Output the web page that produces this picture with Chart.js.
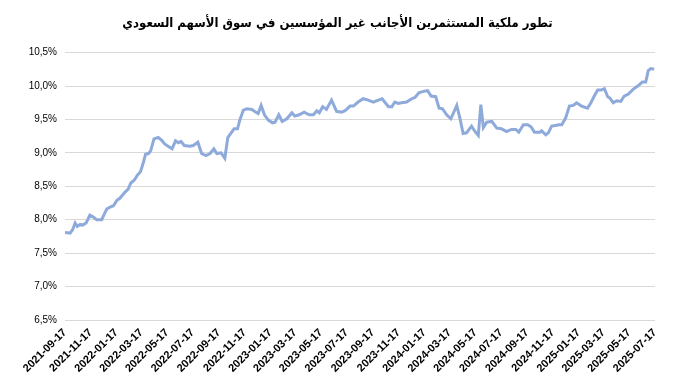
<!DOCTYPE html>
<html>
<head>
<meta charset="utf-8">
<script src="https://cdn.jsdelivr.net/npm/chart.js@4.4.1/dist/chart.umd.min.js"></script>
<style>
  html, body { margin: 0; padding: 0; background: #fff; }
</style>
</head>
<body>
<canvas id="myChart" width="675" height="391"></canvas>
<script>
const chartTitle = 'تطور ملكية المستثمرين الأجانب غير المؤسسين في سوق الأسهم السعودي';
const startDate = '2021-09-17';

// days after startDate for each reading
const dayOffsets = [0, 12, 18, 24, 29, 36, 42, 50, 59, 67, 75, 87, 92, 99, 107, 115, 123, 130, 142, 150,
  156, 164, 171, 179, 186, 191, 198, 203, 211, 221, 229, 237, 249, 254, 262, 269, 275, 283, 296, 304,
  315, 324, 334, 344, 353, 360, 370, 379, 386, 394, 401, 409, 415, 423, 431, 443, 450, 458, 465, 473,
  482, 492, 498, 507, 515, 526, 538, 545, 555, 567, 579, 589, 597, 603, 611, 620, 632, 644, 656, 664,
  676, 684, 695, 707, 719, 731, 743, 752, 767, 775, 782, 790, 798, 810, 822, 830, 839, 850, 860, 868,
  879, 887, 895, 905, 915, 929, 937, 944, 952, 964, 972, 980, 986, 992, 1000, 1012, 1024, 1035, 1047, 1059,
  1069, 1076, 1087, 1097, 1105, 1113, 1126, 1130, 1140, 1146, 1154, 1163, 1171, 1178, 1187, 1196, 1205, 1213, 1225, 1239,
  1247, 1255, 1263, 1271, 1279, 1287, 1292, 1300, 1308, 1318, 1326, 1336, 1347, 1358, 1369, 1377, 1383, 1389, 1397];

// ownership share, %
const ownership = [7.81, 7.80, 7.85, 7.95, 7.90, 7.93, 7.92, 7.95, 8.07, 8.04, 8.00, 8.00, 8.07, 8.16, 8.19, 8.21, 8.29, 8.32, 8.41, 8.46,
  8.55, 8.59, 8.66, 8.72, 8.86, 8.98, 8.99, 9.03, 9.21, 9.23, 9.19, 9.13, 9.08, 9.06, 9.18, 9.15, 9.17, 9.11, 9.10, 9.11,
  9.16, 8.99, 8.96, 8.99, 9.06, 8.99, 9.00, 8.92, 9.23, 9.30, 9.36, 9.36, 9.50, 9.64, 9.66, 9.65, 9.62, 9.59, 9.71, 9.57,
  9.49, 9.45, 9.46, 9.57, 9.47, 9.51, 9.60, 9.55, 9.57, 9.61, 9.57, 9.57, 9.63, 9.60, 9.69, 9.65, 9.79, 9.62, 9.61, 9.63,
  9.70, 9.70, 9.76, 9.81, 9.79, 9.76, 9.79, 9.81, 9.69, 9.69, 9.76, 9.74, 9.75, 9.76, 9.81, 9.83, 9.90, 9.92, 9.93, 9.85,
  9.84, 9.67, 9.66, 9.57, 9.51, 9.71, 9.50, 9.29, 9.30, 9.40, 9.32, 9.26, 9.72, 9.38, 9.46, 9.47, 9.37, 9.36, 9.32, 9.35,
  9.35, 9.31, 9.42, 9.42, 9.39, 9.31, 9.31, 9.33, 9.27, 9.30, 9.40, 9.41, 9.42, 9.42, 9.52, 9.70, 9.71, 9.75, 9.70, 9.67,
  9.75, 9.85, 9.94, 9.94, 9.96, 9.84, 9.82, 9.75, 9.78, 9.77, 9.85, 9.88, 9.95, 10.00, 10.06, 10.06, 10.23, 10.26, 10.25];

const tickLabels = ['2021-09-17', '2021-11-17', '2022-01-17', '2022-03-17', '2022-05-17', '2022-07-17',
  '2022-09-17', '2022-11-17', '2023-01-17', '2023-03-17', '2023-05-17', '2023-07-17',
  '2023-09-17', '2023-11-17', '2024-01-17', '2024-03-17', '2024-05-17', '2024-07-17',
  '2024-09-17', '2024-11-17', '2025-01-17', '2025-03-17', '2025-05-17', '2025-07-17'];

const dayMs = 24 * 3600 * 1000;
const t0 = Date.parse(startDate);
const tickDays = tickLabels.map(s => Math.round((Date.parse(s) - t0) / dayMs));

const points = dayOffsets.map((d, i) => ({x: d, y: ownership[i]}));

const ctx = document.getElementById('myChart');

new Chart(ctx, {
  type: 'line',
  data: {
    datasets: [{
      label: 'ملكية المستثمرين الأجانب',
      data: points,
      borderColor: '#8eaadb',
      borderWidth: 3,
      pointRadius: 0,
      tension: 0,
      fill: false
    }]
  },
  options: {
    responsive: false,
    animation: false,
    layout: { padding: { left: 20, right: 20, top: 0, bottom: 0 } },
    plugins: {
      legend: { display: false },
      tooltip: { enabled: false },
      title: {
        display: true,
        text: chartTitle,
        color: '#000',
        font: { family: '"DejaVu Sans Condensed", "DejaVu Sans", sans-serif', size: 13, weight: 'bold' },
        padding: { top: 16, bottom: 21 }
      }
    },
    scales: {
      x: {
        type: 'linear',
        min: 0,
        max: tickDays[tickDays.length - 1],
        afterBuildTicks: axis => { axis.ticks = tickDays.map(v => ({ value: v })); },
        afterFit: axis => { axis.height = 71; },
        grid: { display: false, drawTicks: false },
        border: { display: false },
        ticks: {
          autoSkip: false,
          maxRotation: 45,
          minRotation: 45,
          padding: 6,
          color: '#000',
          font: { family: '"Liberation Sans", Arial, sans-serif', size: 11, weight: 'bold' },
          callback: v => tickLabels[tickDays.indexOf(v)]
        }
      },
      y: {
        min: 6.5,
        max: 10.5,
        afterFit: axis => { axis.width = 45; },
        grid: { color: '#d9d9d9', lineWidth: 1, drawTicks: false },
        border: { display: false },
        ticks: {
          stepSize: 0.5,
          padding: 8,
          color: '#000',
          font: { family: '"Liberation Sans", Arial, sans-serif', size: 10 },
          callback: v => v.toFixed(1).replace('.', ',') + '%'
        }
      }
    }
  }
});
</script>
</body>
</html>
